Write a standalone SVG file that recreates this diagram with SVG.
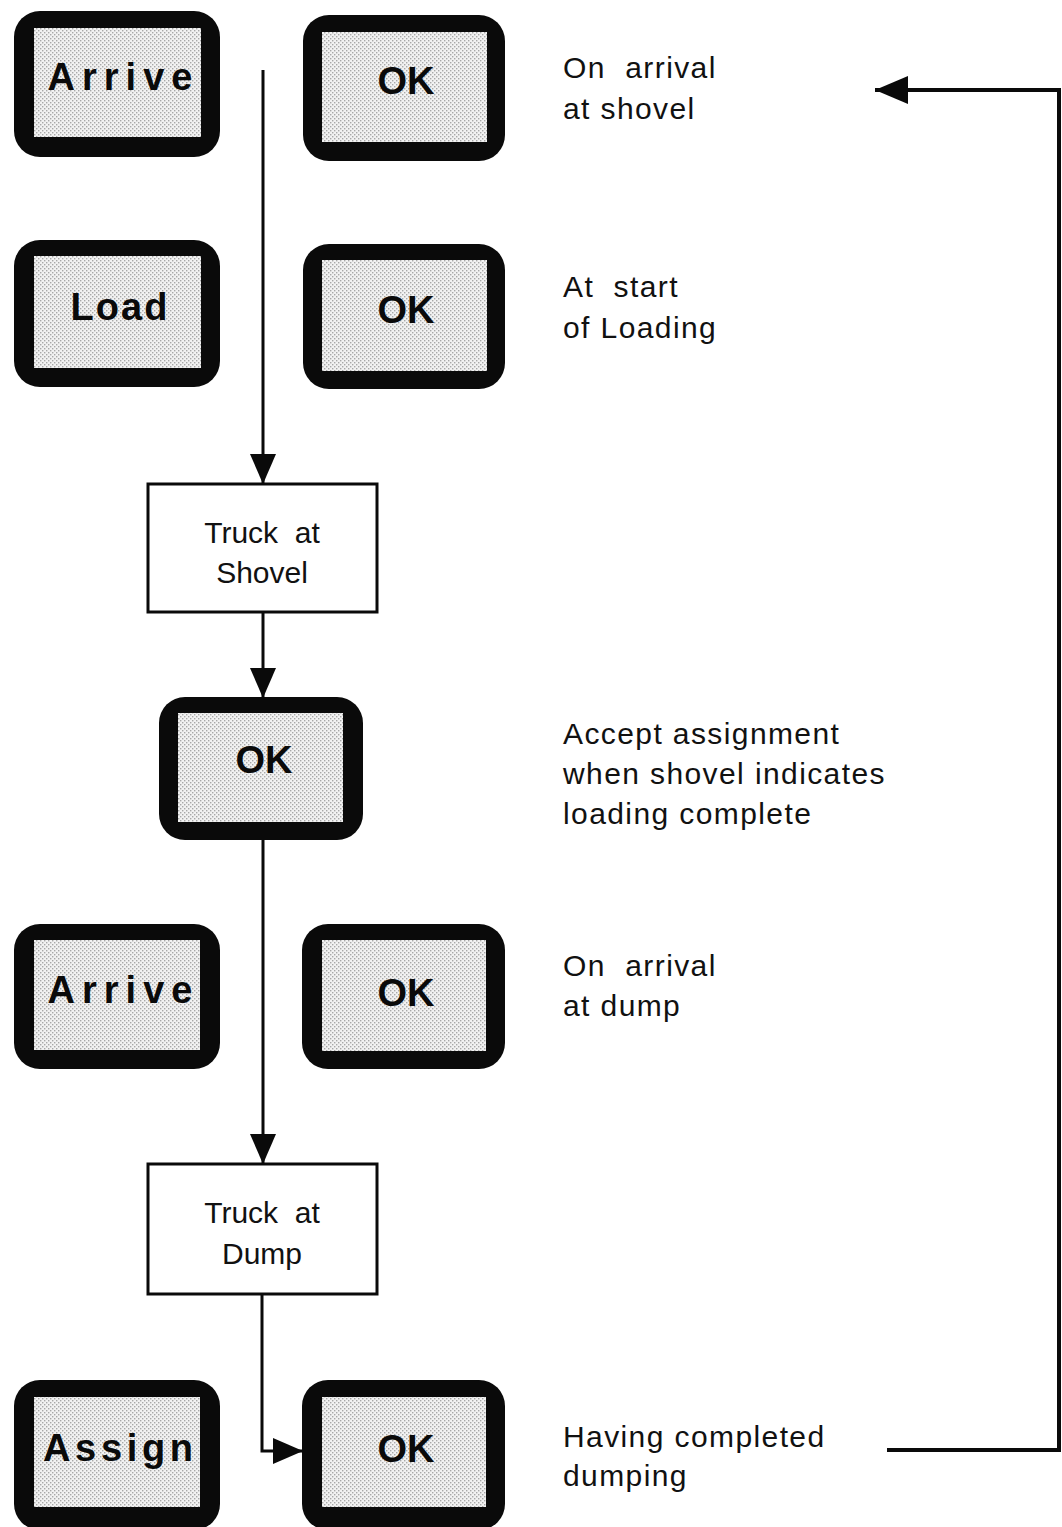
<svg xmlns="http://www.w3.org/2000/svg" width="1062" height="1527" viewBox="0 0 1062 1527">
  <defs>
    <!-- stippled grey fill used inside the keys -->
    <pattern id="stipple" width="4" height="4" patternUnits="userSpaceOnUse">
      <rect width="4" height="4" fill="#f2f2f2"/>
      <rect x="0" y="0" width="1.4" height="1.4" fill="#a8a8a8"/>
      <rect x="2" y="2" width="1.4" height="1.4" fill="#a8a8a8"/>
    </pattern>
    <marker id="arrow" markerUnits="userSpaceOnUse" markerWidth="30" markerHeight="26" refX="30" refY="13" orient="auto">
      <path d="M0,0 L30,13 L0,26 Z" fill="#0a0a0a"/>
    </marker>
    <marker id="arrowBig" markerUnits="userSpaceOnUse" markerWidth="33" markerHeight="28" refX="33" refY="14" orient="auto">
      <path d="M0,0 L33,14 L0,28 Z" fill="#0a0a0a"/>
    </marker>
  </defs>
  <style>
    .frame { fill: #0a0a0a; }
    .face { fill: url(#stipple); }
    .key { font-family: "Liberation Sans", Arial, sans-serif; font-weight: bold; font-size: 38px; fill: #0a0a0a; text-anchor: middle; }
    .state { fill: #fff; stroke: #0a0a0a; stroke-width: 3; }
    .label { font-family: "Liberation Sans", Arial, sans-serif; font-size: 30px; fill: #111; white-space: pre; }
    .mid { text-anchor: middle; }
    .note { font-family: "Liberation Sans", Arial, sans-serif; font-size: 30px; fill: #111; letter-spacing: 1.4px; white-space: pre; }
    .link { fill: none; stroke: #0a0a0a; stroke-width: 3; }
    .loop { fill: none; stroke: #0a0a0a; stroke-width: 4; }
  </style>

  <rect width="1062" height="1527" fill="#fff"/>

  <!-- connectors -->
  <g id="connectors">
    <path class="link" d="M263 70 V484" marker-end="url(#arrow)"/>
    <path class="link" d="M263 613 V698" marker-end="url(#arrow)"/>
    <path class="link" d="M263 840 V1164" marker-end="url(#arrow)"/>
    <path class="link" d="M262 1293 V1451 H303" marker-end="url(#arrow)"/>
    <path class="loop" d="M887 1450 H1059 V90 H875" marker-end="url(#arrowBig)"/>
  </g>

  <!-- first row: arrival at shovel -->
  <g id="arrive-shovel">
    <rect class="frame" x="14" y="11" width="206" height="146" rx="26"/>
    <rect class="face" x="34" y="28" width="167" height="109"/>
    <text class="key" x="120" y="90" textLength="145" lengthAdjust="spacing">Arrive</text>
  </g>
  <g id="ok-arrive-shovel">
    <rect class="frame" x="303" y="15" width="202" height="146" rx="26"/>
    <rect class="face" x="322" y="32" width="165" height="110"/>
    <text class="key" x="406" y="94">OK</text>
  </g>
  <g id="note-arrive-shovel">
    <text class="note" x="563" y="78" xml:space="preserve">On  arrival</text>
    <text class="note" x="563" y="119">at shovel</text>
  </g>

  <!-- second row: loading -->
  <g id="load">
    <rect class="frame" x="14" y="240" width="206" height="147" rx="26"/>
    <rect class="face" x="34" y="256" width="167" height="112"/>
    <text class="key" x="119" y="320" textLength="97" lengthAdjust="spacing">Load</text>
  </g>
  <g id="ok-load">
    <rect class="frame" x="303" y="244" width="202" height="145" rx="26"/>
    <rect class="face" x="322" y="260" width="165" height="111"/>
    <text class="key" x="406" y="323">OK</text>
  </g>
  <g id="note-load">
    <text class="note" x="563" y="297" xml:space="preserve">At  start</text>
    <text class="note" x="563" y="338">of Loading</text>
  </g>

  <!-- state: truck at shovel -->
  <g id="truck-at-shovel">
    <rect class="state" x="148" y="484" width="229" height="128"/>
    <text class="label mid" x="262" y="543" xml:space="preserve">Truck  at</text>
    <text class="label mid" x="262" y="583">Shovel</text>
  </g>

  <!-- accept assignment -->
  <g id="ok-accept">
    <rect class="frame" x="159" y="697" width="204" height="143" rx="26"/>
    <rect class="face" x="178" y="713" width="165" height="109"/>
    <text class="key" x="264" y="773">OK</text>
  </g>
  <g id="note-accept">
    <text class="note" x="563" y="744">Accept assignment</text>
    <text class="note" x="563" y="784">when shovel indicates</text>
    <text class="note" x="563" y="824">loading complete</text>
  </g>

  <!-- arrival at dump -->
  <g id="arrive-dump">
    <rect class="frame" x="14" y="924" width="206" height="145" rx="26"/>
    <rect class="face" x="34" y="940" width="166" height="110"/>
    <text class="key" x="120" y="1003" textLength="145" lengthAdjust="spacing">Arrive</text>
  </g>
  <g id="ok-arrive-dump">
    <rect class="frame" x="302" y="924" width="203" height="145" rx="26"/>
    <rect class="face" x="322" y="940" width="164" height="111"/>
    <text class="key" x="406" y="1006">OK</text>
  </g>
  <g id="note-arrive-dump">
    <text class="note" x="563" y="976" xml:space="preserve">On  arrival</text>
    <text class="note" x="563" y="1016">at dump</text>
  </g>

  <!-- state: truck at dump -->
  <g id="truck-at-dump">
    <rect class="state" x="148" y="1164" width="229" height="130"/>
    <text class="label mid" x="262" y="1223" xml:space="preserve">Truck  at</text>
    <text class="label mid" x="262" y="1264">Dump</text>
  </g>

  <!-- last row: assignment after dumping -->
  <g id="assign">
    <rect class="frame" x="14" y="1380" width="206" height="150" rx="26"/>
    <rect class="face" x="34" y="1397" width="166" height="110"/>
    <text class="key" x="118" y="1461" textLength="150" lengthAdjust="spacing">Assign</text>
  </g>
  <g id="ok-dumped">
    <rect class="frame" x="302" y="1380" width="203" height="150" rx="26"/>
    <rect class="face" x="322" y="1397" width="164" height="110"/>
    <text class="key" x="406" y="1462">OK</text>
  </g>
  <g id="note-dumped">
    <text class="note" x="563" y="1447">Having completed</text>
    <text class="note" x="563" y="1486">dumping</text>
  </g>
</svg>
